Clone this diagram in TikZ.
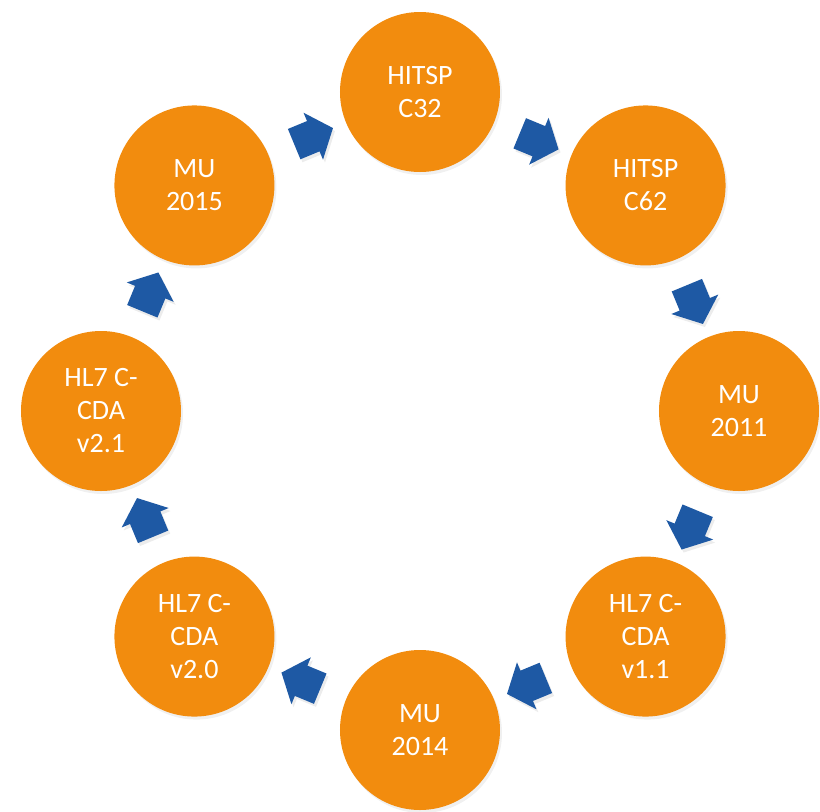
\documentclass[tikz,border=0pt]{standalone}
\usepackage{fontspec}
\setmainfont{Carlito}
\usetikzlibrary{shapes.arrows,shadows}
\definecolor{stageorange}{RGB}{242,140,14}
\definecolor{arrowblue}{RGB}{30,89,164}
\tikzset{
  every node/.style={
    font=\fontsize{14}{16.5}\selectfont
  },
  stage/.style={
    shape=circle,
    minimum size=80pt,
    inner sep=0pt,
    fill=stageorange,
    text=white,
    align=center,
    drop shadow={opacity=0.12,shadow xshift=1pt,shadow yshift=-1.5pt}
  },
  cyclearrow/.style={
    shape=single arrow,
    minimum height=21pt,
    minimum width=25pt,
    single arrow head extend=4.5pt,
    single arrow tip angle=100,
    inner xsep=0pt,
    inner ysep=8pt,
    fill=arrowblue,
    sloped,
    allow upside down,
    drop shadow={opacity=0.15,shadow xshift=1pt,shadow yshift=-1.5pt}
  }
}

\begin{document}
\begin{tikzpicture}[x=0.5pt,y=0.5pt]
\useasboundingbox (-420,-400) rectangle (400,411);

\node [stage] (c32) at (90:319) {HITSP\\C32};
\node [stage] (c62) at (45:319) {HITSP\\C62};
\node [stage] (mu11) at (0:319) {MU\\2011};
\node [stage] (cda11) at (-45:319) {HL7 C-\\CDA\\v1.1};
\node [stage] (mu14) at (-90:319) {MU\\2014};
\node [stage] (cda20) at (-135:319) {HL7 C-\\CDA\\v2.0};
\node [stage] (cda21) at (180:319) {HL7 C-\\CDA\\v2.1};
\node [stage] (mu15) at (135:319) {MU\\2015};

\path (c32) -- node [cyclearrow] {} (c62);
\path (c62) -- node [cyclearrow] {} (mu11);
\path (mu11) -- node [cyclearrow] {} (cda11);
\path (cda11) -- node [cyclearrow] {} (mu14);
\path (mu14) -- node [cyclearrow] {} (cda20);
\path (cda20) -- node [cyclearrow] {} (cda21);
\path (cda21) -- node [cyclearrow] {} (mu15);
\path (mu15) -- node [cyclearrow] {} (c32);

\end{tikzpicture}
\end{document}
